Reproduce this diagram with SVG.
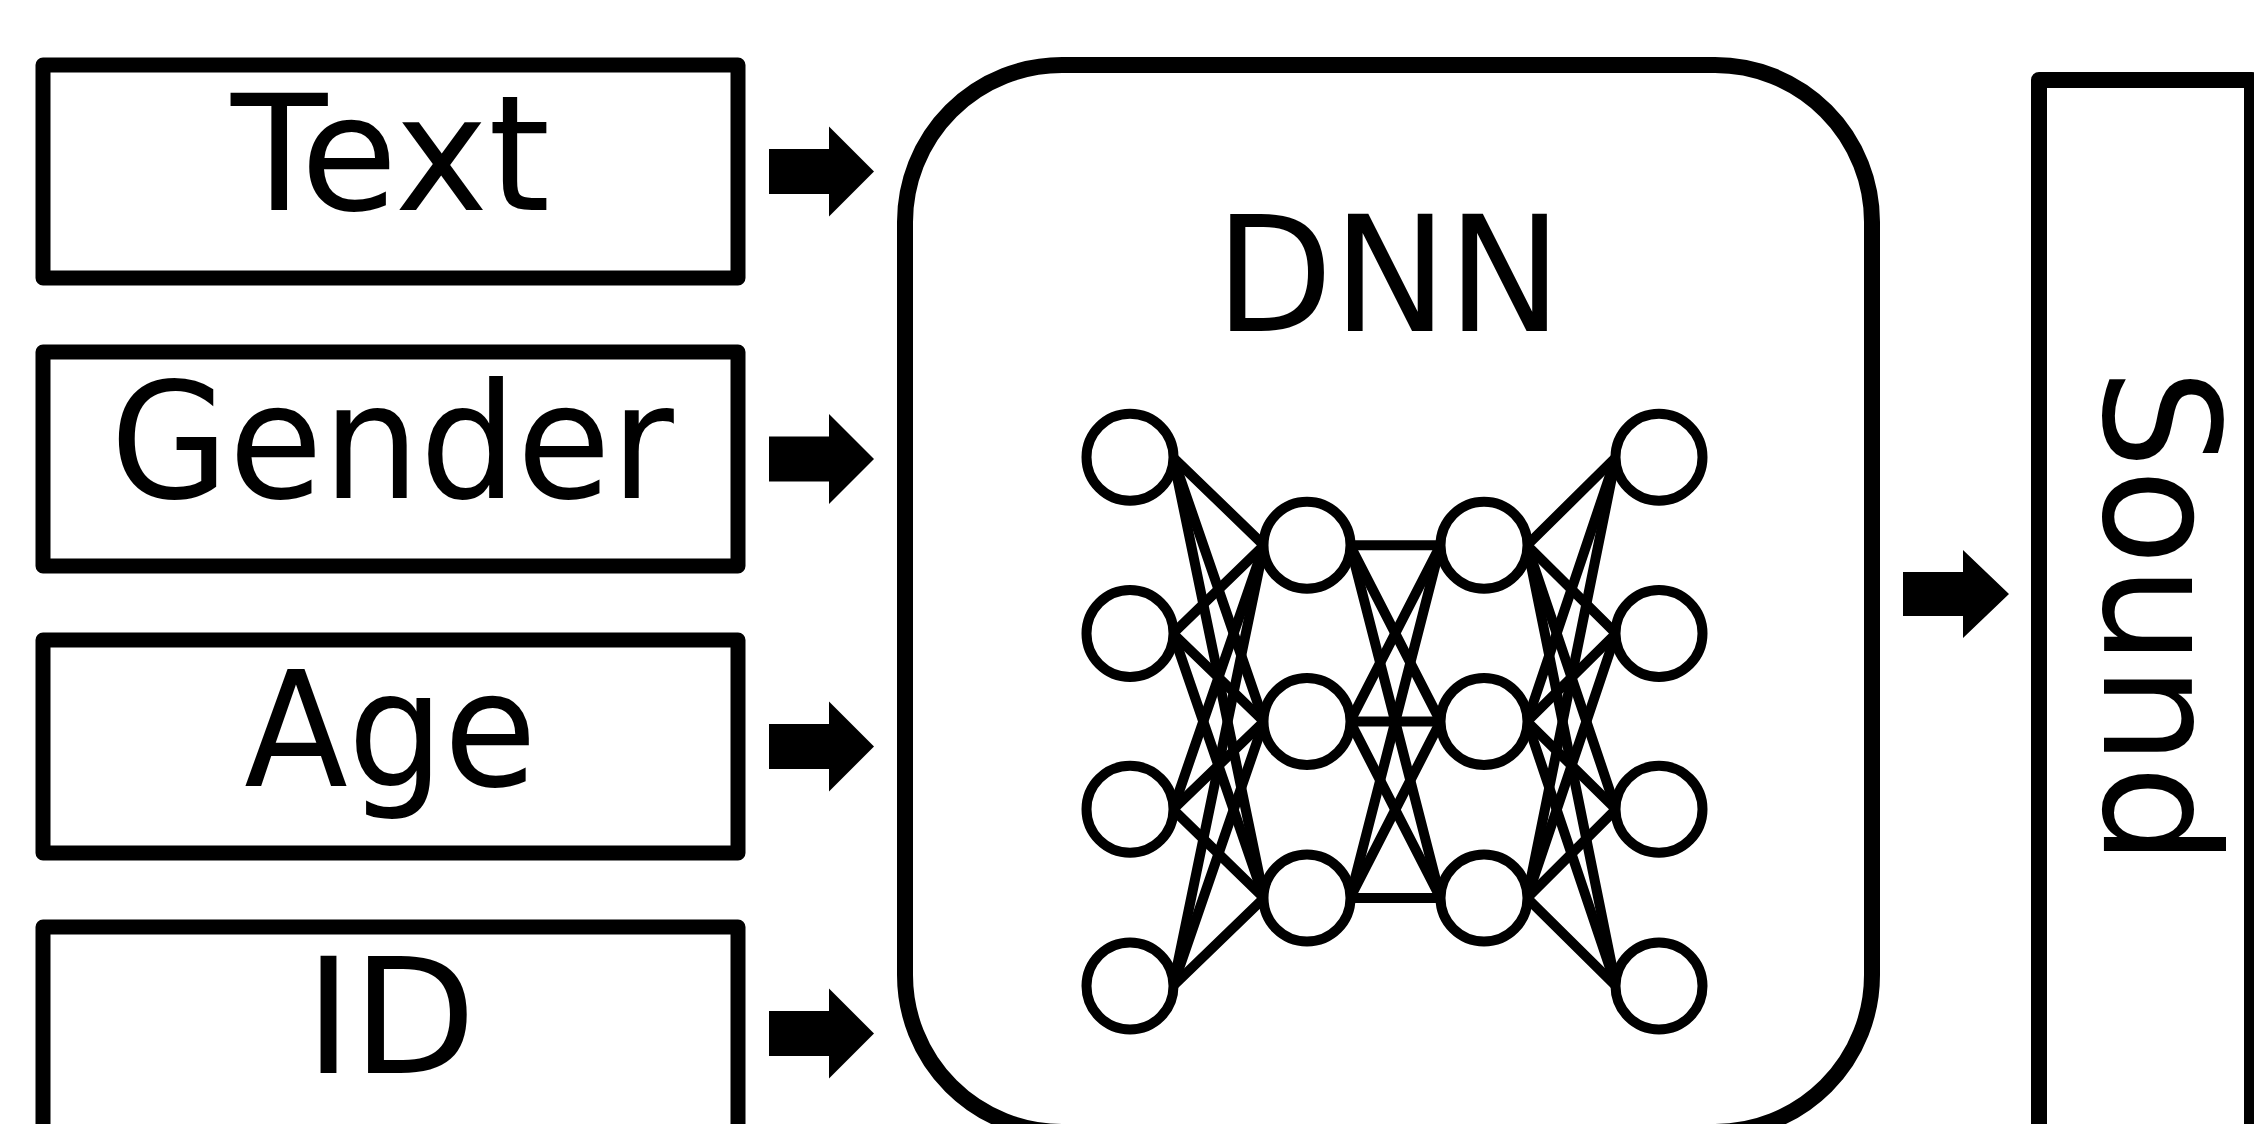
<svg xmlns="http://www.w3.org/2000/svg" width="2254" height="1124" viewBox="0 0 2254 1124">
  <style>
    .box { fill: #fff; stroke: #000; stroke-width: 15; stroke-linejoin: round; }
    .big { fill: #fff; stroke: #000; stroke-width: 16; stroke-linejoin: round; }
    .lbl { font-family: "DejaVu Sans", Verdana, sans-serif; font-size: 161px; fill: #000; text-anchor: middle; }
    .neuron { fill: #fff; stroke: #000; stroke-width: 10; }
    .edge { stroke: #000; stroke-width: 10; fill: none; stroke-linecap: round; }
    .arrow { fill: #000; }
  </style>
  <rect x="0" y="0" width="2254" height="1124" fill="#fff"/>

  <g id="text-node">
    <rect class="box" x="43" y="65" width="695" height="213"/>
    <text class="lbl" transform="translate(390.5,210) scale(0.98,1)">Text</text>
  </g>
  <g id="gender-node">
    <rect class="box" x="43" y="352" width="695" height="214"/>
    <text class="lbl" transform="translate(392,498) scale(0.95,1)">Gender</text>
  </g>
  <g id="age-node">
    <rect class="box" x="43" y="640" width="695" height="213"/>
    <text class="lbl" transform="translate(390.5,785.5) scale(0.94,1)">Age</text>
  </g>
  <g id="id-node">
    <rect class="box" x="43" y="927" width="695" height="214"/>
    <text class="lbl" x="390.5" y="1073">ID</text>
  </g>

  <g id="dnn-node">
    <rect class="big" x="905" y="65" width="967" height="1067" rx="157" ry="157"/>
    <text class="lbl" transform="translate(1388.5,331) scale(0.95,1)">DNN</text>
    <g id="dnn-edges">
      <line class="edge" x1="1173" y1="457.3" x2="1264" y2="545.3"/>
      <line class="edge" x1="1173" y1="457.3" x2="1264" y2="721.5"/>
      <line class="edge" x1="1173" y1="457.3" x2="1264" y2="898"/>
      <line class="edge" x1="1173" y1="633.5" x2="1264" y2="545.3"/>
      <line class="edge" x1="1173" y1="633.5" x2="1264" y2="721.5"/>
      <line class="edge" x1="1173" y1="633.5" x2="1264" y2="898"/>
      <line class="edge" x1="1173" y1="809.3" x2="1264" y2="545.3"/>
      <line class="edge" x1="1173" y1="809.3" x2="1264" y2="721.5"/>
      <line class="edge" x1="1173" y1="809.3" x2="1264" y2="898"/>
      <line class="edge" x1="1173" y1="986" x2="1264" y2="545.3"/>
      <line class="edge" x1="1173" y1="986" x2="1264" y2="721.5"/>
      <line class="edge" x1="1173" y1="986" x2="1264" y2="898"/>
      <line class="edge" x1="1350" y1="545.3" x2="1440.5" y2="545.3"/>
      <line class="edge" x1="1350" y1="545.3" x2="1440.5" y2="721.5"/>
      <line class="edge" x1="1350" y1="545.3" x2="1440.5" y2="898"/>
      <line class="edge" x1="1350" y1="721.5" x2="1440.5" y2="545.3"/>
      <line class="edge" x1="1350" y1="721.5" x2="1440.5" y2="721.5"/>
      <line class="edge" x1="1350" y1="721.5" x2="1440.5" y2="898"/>
      <line class="edge" x1="1350" y1="898" x2="1440.5" y2="545.3"/>
      <line class="edge" x1="1350" y1="898" x2="1440.5" y2="721.5"/>
      <line class="edge" x1="1350" y1="898" x2="1440.5" y2="898"/>
      <line class="edge" x1="1527" y1="545.3" x2="1616" y2="457.3"/>
      <line class="edge" x1="1527" y1="545.3" x2="1616" y2="633.5"/>
      <line class="edge" x1="1527" y1="545.3" x2="1616" y2="809.3"/>
      <line class="edge" x1="1527" y1="545.3" x2="1616" y2="986"/>
      <line class="edge" x1="1527" y1="721.5" x2="1616" y2="457.3"/>
      <line class="edge" x1="1527" y1="721.5" x2="1616" y2="633.5"/>
      <line class="edge" x1="1527" y1="721.5" x2="1616" y2="809.3"/>
      <line class="edge" x1="1527" y1="721.5" x2="1616" y2="986"/>
      <line class="edge" x1="1527" y1="898" x2="1616" y2="457.3"/>
      <line class="edge" x1="1527" y1="898" x2="1616" y2="633.5"/>
      <line class="edge" x1="1527" y1="898" x2="1616" y2="809.3"/>
      <line class="edge" x1="1527" y1="898" x2="1616" y2="986"/>
    </g>
    <g id="dnn-neurons">
      <circle class="neuron" cx="1130" cy="457.3" r="43.5"/>
      <circle class="neuron" cx="1130" cy="633.5" r="43.5"/>
      <circle class="neuron" cx="1130" cy="809.3" r="43.5"/>
      <circle class="neuron" cx="1130" cy="986" r="43.5"/>
      <circle class="neuron" cx="1307" cy="545.3" r="43.5"/>
      <circle class="neuron" cx="1307" cy="721.5" r="43.5"/>
      <circle class="neuron" cx="1307" cy="898" r="43.5"/>
      <circle class="neuron" cx="1484" cy="545.3" r="43.5"/>
      <circle class="neuron" cx="1484" cy="721.5" r="43.5"/>
      <circle class="neuron" cx="1484" cy="898" r="43.5"/>
      <circle class="neuron" cx="1659" cy="457.3" r="43.5"/>
      <circle class="neuron" cx="1659" cy="633.5" r="43.5"/>
      <circle class="neuron" cx="1659" cy="809.3" r="43.5"/>
      <circle class="neuron" cx="1659" cy="986" r="43.5"/>
    </g>
  </g>

  <g id="sound-node">
    <rect class="big" x="2039" y="80" width="213" height="1200"/>
    <text class="lbl" transform="translate(2104,617) rotate(90) scale(0.98,1)">Sound</text>
  </g>

  <g id="connectors">
    <polygon class="arrow" points="769,149 829,149 829,126.5 874,171.5 829,216.5 829,194 769,194"/>
    <polygon class="arrow" points="769,436.5 829,436.5 829,414 874,459 829,504 829,481.5 769,481.5"/>
    <polygon class="arrow" points="769,724 829,724 829,701.5 874,746.5 829,791.5 829,769 769,769"/>
    <polygon class="arrow" points="769,1011 829,1011 829,988.5 874,1033.5 829,1078.5 829,1056 769,1056"/>
    <polygon class="arrow" points="1903,572 1963,572 1963,550 2009,594 1963,638 1963,616 1903,616"/>
  </g>
</svg>
